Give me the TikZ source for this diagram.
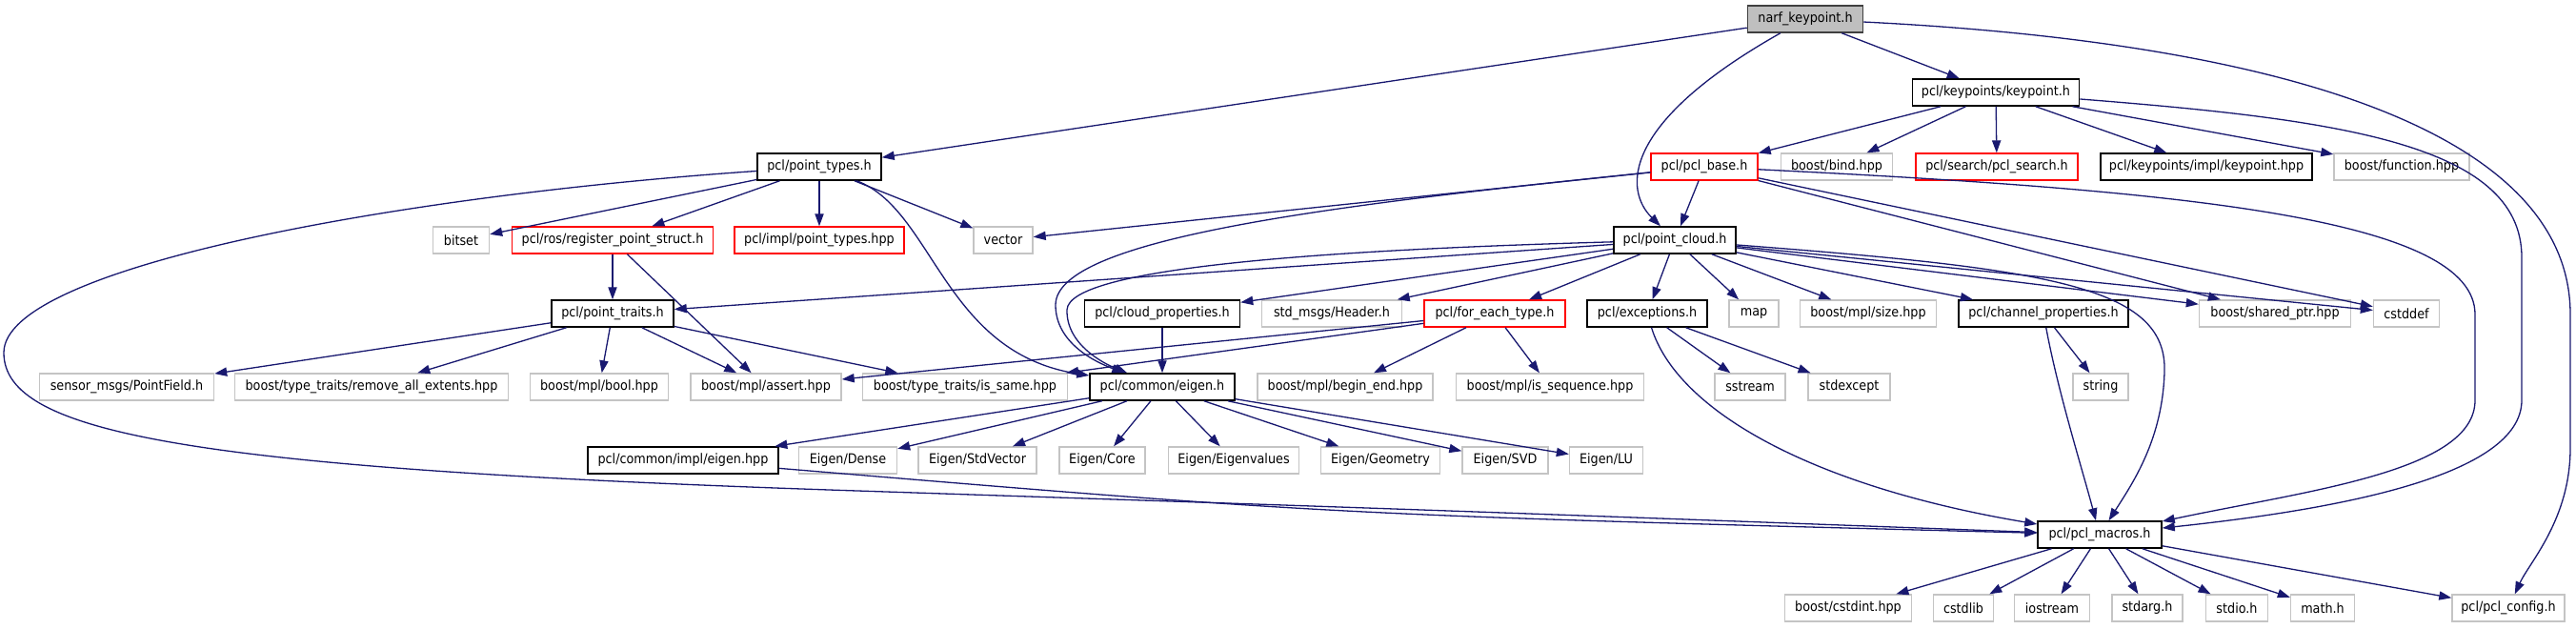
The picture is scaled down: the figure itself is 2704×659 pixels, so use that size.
\documentclass[tikz,border=0pt]{standalone}
\usepackage{fontspec}
\setmainfont{DejaVu Sans}[FakeStretch=0.9]
\usetikzlibrary{arrows.meta,calc}
\definecolor{edgeblue}{HTML}{191970}
\definecolor{extgray}{HTML}{C4C4C4}
\definecolor{rootfill}{HTML}{BFBFBF}
\definecolor{rootdraw}{HTML}{404040}
\begin{document}
\begin{tikzpicture}[x=0.5pt,y=-0.5pt,
  box/.style={rectangle, inner sep=0pt, minimum height=14pt, font=\fontsize{7.1}{8}\selectfont},
  doc/.style={box, draw=black, line width=0.75pt},
  ext/.style={box, draw=extgray, line width=0.7pt},
  trunc/.style={box, draw=red, line width=0.7pt},
  root/.style={box, draw=rootdraw, fill=rootfill, line width=0.75pt},
  dep/.style={draw=edgeblue, line width=0.65pt, -{Triangle[length=6.5pt,width=4.6pt]}},
]
\useasboundingbox[fill=white] (0,0) rectangle (2704,659);
% row 0-1
\node[root, minimum width=60.5pt] (narf) at (1895,20) {narf\_keypoint.h};
\node[doc, minimum width=87.5pt] (kp) at (2095,97) {pcl/keypoints/keypoint.h};
% row 2
\node[doc, minimum width=65pt] (pt) at (860,175) {pcl/point\_types.h};
\node[trunc, minimum width=56pt] (base) at (1789,175) {pcl/pcl\_base.h};
\node[ext, minimum width=58.5pt] (bind) at (1928,175) {boost/bind.hpp};
\node[trunc, minimum width=85pt] (search) at (2096,175) {pcl/search/pcl\_search.h};
\node[doc, minimum width=111pt] (kphpp) at (2316,175) {pcl/keypoints/impl/keypoint.hpp};
\node[ext, minimum width=71pt] (func) at (2521,175) {boost/function.hpp};
% row 3
\node[ext, minimum width=29.5pt] (bitset) at (484,252) {bitset};
\node[trunc, minimum width=105.5pt] (reg) at (643,252) {pcl/ros/register\_point\_struct.h};
\node[trunc, minimum width=89pt] (ipt) at (860,252) {pcl/impl/point\_types.hpp};
\node[ext, minimum width=31pt] (vector) at (1053,252) {vector};
\node[doc, minimum width=64pt] (pc) at (1758,252) {pcl/point\_cloud.h};
% row 4
\node[doc, minimum width=64pt] (traits) at (643,329) {pcl/point\_traits.h};
\node[doc, minimum width=81.5pt] (cloudprop) at (1220,329) {pcl/cloud\_properties.h};
\node[ext, minimum width=73.5pt] (header) at (1398,329) {std\_msgs/Header.h};
\node[trunc, minimum width=74pt] (foreach) at (1569,329) {pcl/for\_each\_type.h};
\node[doc, minimum width=63pt] (exc) at (1729,329) {pcl/exceptions.h};
\node[ext, minimum width=26pt] (map) at (1841,329) {map};
\node[ext, minimum width=71.5pt] (size) at (1961,329) {boost/mpl/size.hpp};
\node[doc, minimum width=89pt] (chan) at (2145,329) {pcl/channel\_properties.h};
\node[ext, minimum width=79.5pt] (shared) at (2388,329) {boost/shared\_ptr.hpp};
\node[ext, minimum width=34.5pt] (cstddef) at (2526,329) {cstddef};
% row 5
\node[ext, minimum width=91.5pt] (pfield) at (133,406) {sensor\_msgs/PointField.h};
\node[ext, minimum width=143.5pt] (remove) at (390,406) {boost/type\_traits/remove\_all\_extents.hpp};
\node[ext, minimum width=72.5pt] (bool) at (629,406) {boost/mpl/bool.hpp};
\node[ext, minimum width=79pt] (assert) at (804,406) {boost/mpl/assert.hpp};
\node[ext, minimum width=107.5pt] (same) at (1013,406) {boost/type\_traits/is\_same.hpp};
\node[doc, minimum width=76pt] (eigen) at (1220,406) {pcl/common/eigen.h};
\node[ext, minimum width=92pt] (beginend) at (1412,406) {boost/mpl/begin\_end.hpp};
\node[ext, minimum width=98.5pt] (isseq) at (1627,406) {boost/mpl/is\_sequence.hpp};
\node[ext, minimum width=37pt] (sstream) at (1837,406) {sstream};
\node[ext, minimum width=43pt] (stdexcept) at (1941,406) {stdexcept};
\node[ext, minimum width=29pt] (string) at (2205,406) {string};
% row 6
\node[doc, minimum width=100pt] (eigenhpp) at (717,483) {pcl/common/impl/eigen.hpp};
\node[ext, minimum width=51.5pt] (dense) at (890,483) {Eigen/Dense};
\node[ext, minimum width=62pt] (stdvec) at (1026,483) {Eigen/StdVector};
\node[ext, minimum width=45pt] (core) at (1157,483) {Eigen/Core};
\node[ext, minimum width=68.5pt] (eigval) at (1295,483) {Eigen/Eigenvalues};
\node[ext, minimum width=62.5pt] (geom) at (1449,483) {Eigen/Geometry};
\node[ext, minimum width=45pt] (svd) at (1580,483) {Eigen/SVD};
\node[ext, minimum width=38.5pt] (lu) at (1686,483) {Eigen/LU};
% row 7-8
\node[doc, minimum width=65pt] (macros) at (2204,561) {pcl/pcl\_macros.h};
\node[ext, minimum width=66.5pt] (cstdint) at (1940,638) {boost/cstdint.hpp};
\node[ext, minimum width=31.5pt] (cstdlib) at (2061,638) {cstdlib};
\node[ext, minimum width=39.5pt] (iostream) at (2154,638) {iostream};
\node[ext, minimum width=37pt] (stdarg) at (2254,638) {stdarg.h};
\node[ext, minimum width=32.5pt] (stdio) at (2348,638) {stdio.h};
\node[ext, minimum width=33.5pt] (math) at (2438,638) {math.h};
\node[ext, minimum width=59pt] (config) at (2633,638) {pcl/pcl\_config.h};

% narf_keypoint.h
\draw[dep] (narf) -- (pt);
\draw[dep] (narf) .. controls (1700,130) and (1705,200) .. (pc);
\draw[dep] (narf) -- (kp);
\draw[dep] (narf) .. controls (2400,45) and (2698,140) .. (2698,330) -- (2698,470) .. controls (2698,545) and (2655,590) .. (config);
% keypoint.h
\draw[dep] (kp) -- (base);
\draw[dep] (kp) -- (bind);
\draw[dep] (kp) -- (search);
\draw[dep] (kp) -- (kphpp);
\draw[dep] (kp) -- (func);
\draw[dep] (kp) .. controls (2450,125) and (2647,150) .. (2647,270) -- (2647,420) .. controls (2647,500) and (2450,535) .. (macros);
% pcl_base.h
\draw[dep] (base) -- (vector);
\draw[dep] (base) .. controls (1400,215) and (1108,250) .. (1108,320) .. controls (1108,360) and (1150,380) .. (eigen);
\draw[dep] (base) -- (pc);
\draw[dep] (base) -- (shared);
\draw[dep] (base) -- (cstddef);
\draw[dep] (base) .. controls (2300,200) and (2598,230) .. (2598,330) -- (2598,420) .. controls (2598,495) and (2420,515) .. (macros);
% point_types.h
\draw[dep] (pt) -- (bitset);
\draw[dep] (pt) -- (reg);
\draw[dep] (pt) -- (ipt);
\draw[dep] (pt) -- (vector);
\draw[dep] (pt) .. controls (980,220) and (990,370) .. (eigen);
\draw[dep] (pt) .. controls (420,205) and (4,280) .. (4,370) .. controls (4,455) and (200,492) .. (900,515) .. controls (1500,535) .. (macros);
% register_point_struct.h
\draw[dep] (reg) -- (traits);
\draw[dep] (reg) -- (assert);
% point_traits.h
\draw[dep] (traits) -- (pfield);
\draw[dep] (traits) -- (remove);
\draw[dep] (traits) -- (bool);
\draw[dep] (traits) -- (assert);
\draw[dep] (traits) -- (same);
% point_cloud.h
\draw[dep] (pc) -- (traits);
\draw[dep] (pc) -- (cloudprop);
\draw[dep] (pc) .. controls (1400,262) and (1122,280) .. (1120,325) .. controls (1119,362) and (1160,382) .. (eigen);
\draw[dep] (pc) -- (header);
\draw[dep] (pc) -- (foreach);
\draw[dep] (pc) -- (exc);
\draw[dep] (pc) -- (map);
\draw[dep] (pc) -- (size);
\draw[dep] (pc) -- (chan);
\draw[dep] (pc) -- (shared);
\draw[dep] (pc) -- (cstddef);
\draw[dep] (pc) .. controls (2150,282) and (2275,300) .. (2272,390) .. controls (2270,460) and (2240,505) .. (macros);
% cloud_properties.h
\draw[dep] (cloudprop) -- (eigen);
% for_each_type.h
\draw[dep] (foreach) -- (assert);
\draw[dep] (foreach) -- (same);
\draw[dep] (foreach) -- (beginend);
\draw[dep] (foreach) -- (isseq);
% exceptions.h
\draw[dep] (exc) -- (sstream);
\draw[dep] (exc) -- (stdexcept);
\draw[dep] (exc) .. controls (1760,430) and (1900,510) .. (macros);
% channel_properties.h
\draw[dep] (chan) -- (string);
\draw[dep] (chan) .. controls (2160,410) and (2185,490) .. (macros);
% common/eigen.h
\draw[dep] (eigen) -- (eigenhpp);
\draw[dep] (eigen) -- (dense);
\draw[dep] (eigen) -- (stdvec);
\draw[dep] (eigen) -- (core);
\draw[dep] (eigen) -- (eigval);
\draw[dep] (eigen) -- (geom);
\draw[dep] (eigen) -- (svd);
\draw[dep] (eigen) -- (lu);
% common/impl/eigen.hpp
\draw[dep] (eigenhpp) .. controls (1400,540) .. (macros);
% pcl_macros.h
\draw[dep] (macros) -- (cstdint);
\draw[dep] (macros) -- (cstdlib);
\draw[dep] (macros) -- (iostream);
\draw[dep] (macros) -- (stdarg);
\draw[dep] (macros) -- (stdio);
\draw[dep] (macros) -- (math);
\draw[dep] (macros) -- (config);
\end{tikzpicture}
\end{document}
